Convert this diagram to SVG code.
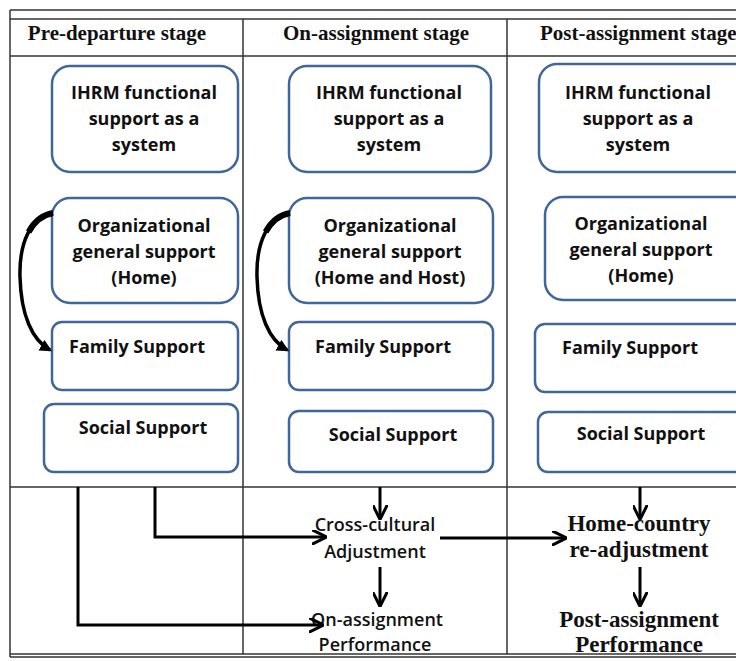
<svg xmlns="http://www.w3.org/2000/svg" width="736" height="661" viewBox="0 0 736 661">
<style>
.grid{stroke:#333;stroke-width:1.5;fill:none}
.box{fill:#fff;stroke:#41679a;stroke-width:2.5}
.bt{font-family:"Open Sans","Liberation Sans",sans-serif;font-weight:700;font-size:18px;fill:#111;text-anchor:middle}
.hd{font-family:"Liberation Serif",serif;font-weight:700;font-size:21px;fill:#111;text-anchor:middle}
.sn{font-family:"Open Sans","Liberation Sans",sans-serif;font-weight:600;font-size:18px;fill:#111;text-anchor:middle}
.sr{font-family:"Liberation Serif",serif;font-weight:700;font-size:23px;fill:#111;text-anchor:middle}
.con{stroke:#000;stroke-width:3;fill:none}
.cur{stroke:#000;stroke-width:3.5;fill:none}
.curt{stroke:#000;stroke-width:6;fill:none;stroke-dasharray:32 1000;stroke-linecap:butt}
</style>
<defs>
<marker id="ah" viewBox="0 0 10 10" refX="9" refY="5" markerWidth="5" markerHeight="5" markerUnits="strokeWidth" orient="auto">
<path d="M0,0 L10,5 L0,10" fill="none" stroke="#000" stroke-width="2"/>
</marker>
<marker id="ahf" viewBox="0 0 10 10" refX="8" refY="5" markerWidth="3.5" markerHeight="3.5" markerUnits="strokeWidth" orient="auto">
<path d="M0,0 L10,5 L0,10 z" fill="#000"/>
</marker>
</defs>
<rect width="736" height="661" fill="#fff"/>
<g id="table">
<line class="grid" x1="10" y1="10" x2="736" y2="10" stroke-width="2.5"/>
<line class="grid" x1="10" y1="19" x2="736" y2="19"/>
<line class="grid" x1="10" y1="56" x2="736" y2="56"/>
<line class="grid" x1="10" y1="487" x2="736" y2="487"/>
<line class="grid" x1="10" y1="654" x2="736" y2="654"/>
<line class="grid" x1="10" y1="657" x2="736" y2="657"/>
<line class="grid" x1="10" y1="10" x2="10" y2="657"/>
<line class="grid" x1="243" y1="19" x2="243" y2="654"/>
<line class="grid" x1="507" y1="19" x2="507" y2="654"/>
<text class="hd" x="117" y="40">Pre-departure stage</text>
<text class="hd" x="376" y="40">On-assignment stage</text>
<text class="hd" x="540" y="40" style="text-anchor:start">Post-assignment stage</text>
</g>
<g id="pre-ihrm"><rect class="box" x="52" y="66" width="186" height="106" rx="18"/>
<text class="bt" x="144" y="99">IHRM functional</text><text class="bt" x="144" y="125">support as a</text><text class="bt" x="144" y="151">system</text></g>
<g id="pre-org"><rect class="box" x="52" y="198" width="186" height="105" rx="18"/>
<text class="bt" x="144" y="232">Organizational</text><text class="bt" x="144" y="258">general support</text><text class="bt" x="144" y="284">(Home)</text></g>
<g id="pre-family"><rect class="box" x="52" y="322" width="186" height="68" rx="10"/>
<text class="bt" x="137" y="353">Family Support</text></g>
<g id="pre-social"><rect class="box" x="44" y="404" width="194" height="68" rx="10"/>
<text class="bt" x="143" y="434">Social Support</text></g>

<g id="on-ihrm"><rect class="box" x="289" y="66" width="202" height="106" rx="18"/>
<text class="bt" x="389" y="99">IHRM functional</text><text class="bt" x="389" y="125">support as a</text><text class="bt" x="389" y="151">system</text></g>
<g id="on-org"><rect class="box" x="289" y="198" width="204" height="105" rx="18"/>
<text class="bt" x="390" y="232">Organizational</text><text class="bt" x="390" y="258">general support</text><text class="bt" x="390" y="284">(Home and Host)</text></g>
<g id="on-family"><rect class="box" x="289" y="322" width="204" height="68" rx="10"/>
<text class="bt" x="383" y="353">Family Support</text></g>
<g id="on-social"><rect class="box" x="289" y="411" width="204" height="61" rx="10"/>
<text class="bt" x="393" y="441">Social Support</text></g>

<g id="post-ihrm"><rect class="box" x="539" y="64" width="215" height="108" rx="18"/>
<text class="bt" x="638" y="99">IHRM functional</text><text class="bt" x="638" y="125">support as a</text><text class="bt" x="638" y="151">system</text></g>
<g id="post-org"><rect class="box" x="545" y="197" width="209" height="103" rx="18"/>
<text class="bt" x="641" y="230">Organizational</text><text class="bt" x="641" y="256">general support</text><text class="bt" x="641" y="282">(Home)</text></g>
<g id="post-family"><rect class="box" x="535" y="324" width="219" height="68" rx="10"/>
<text class="bt" x="630" y="354">Family Support</text></g>
<g id="post-social"><rect class="box" x="538" y="412" width="216" height="60" rx="10"/>
<text class="bt" x="641" y="440">Social Support</text></g>

<g id="cca"><text class="sn" x="375" y="531">Cross-cultural</text><text class="sn" x="375" y="558">Adjustment</text></g>
<g id="oap"><text class="sn" x="377" y="626">On-assignment</text><text class="sn" x="375" y="651">Performance</text></g>
<g id="hcr"><text class="sr" x="639" y="531">Home-country</text><text class="sr" x="639" y="557">re-adjustment</text></g>
<g id="pap"><text class="sr" x="639" y="627">Post-assignment</text><text class="sr" x="639" y="652">Performance</text></g>

<g id="connectors">
<path class="cur" d="M53,213 C31,217 19,242 20,277 C21,315 32,340 50,350" marker-end="url(#ahf)"/>
<path class="curt" d="M53,213 C31,217 19,242 20,277 C21,315 32,340 50,350"/>
<path class="cur" d="M290,213 C268,217 256,242 257,277 C258,315 269,340 287,350" marker-end="url(#ahf)"/>
<path class="curt" d="M290,213 C268,217 256,242 257,277 C258,315 269,340 287,350"/>
<path class="con" d="M78,487 V625 H322" marker-end="url(#ah)"/>
<path class="con" d="M155,487 V537 H325" marker-end="url(#ah)"/>
<path class="con" d="M380,487 V518" marker-end="url(#ah)"/>
<path class="con" d="M380,567 V605" marker-end="url(#ah)"/>
<path class="con" d="M440,538 H565" marker-end="url(#ah)"/>
<path class="con" d="M640,487 V518" marker-end="url(#ah)"/>
<path class="con" d="M640,567 V605" marker-end="url(#ah)"/>
</g>
</svg>
